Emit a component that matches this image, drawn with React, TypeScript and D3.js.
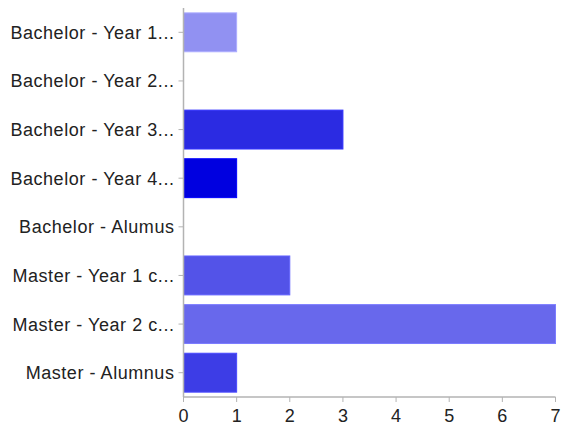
import React from "react";
import * as d3 from "d3";

const categories = [
  "Bachelor - Year 1...",
  "Bachelor - Year 2...",
  "Bachelor - Year 3...",
  "Bachelor - Year 4...",
  "Bachelor - Alumus",
  "Master - Year 1 c...",
  "Master - Year 2 c...",
  "Master - Alumnus",
];
const counts = [1, 0, 3, 1, 0, 2, 7, 1];
const barColors = [
  "#9191f2",
  "#9191f2",
  "#2b2be2",
  "#0000e0",
  "#0000e0",
  "#5353e8",
  "#6868ec",
  "#3d3de6",
];
const xTicks = [0, 1, 2, 3, 4, 5, 6, 7];

const W = 561;
const H = 426;
const left = 183.5;
const right = 555.5;
const top = 8;
const bottom = 397;
const fontSize = 18;
const tracking = 0.55;

export default function App() {
  const x = d3.scaleLinear().domain([0, 7]).range([left, right]);
  const y = d3
    .scaleBand<string>()
    .domain(categories)
    .range([top, bottom])
    .paddingInner(0.2)
    .paddingOuter(0.1);
  const font = "'Liberation Sans', Arial, Helvetica, sans-serif";
  const axisColor = "#b3b3b3";
  const capHalf = fontSize * 0.358;
  return (
    <svg
      width={W}
      height={H}
      style={{ position: "absolute", left: 0, top: 0, background: "#fff" }}
      fontFamily={font}
    >
      {categories.map((c, i) =>
        counts[i] > 0 ? (
          <rect
            key={c}
            x={x(0)}
            y={y(c)!}
            width={x(counts[i]) - x(0)}
            height={y.bandwidth()}
            fill={barColors[i]}
            stroke={d3.color(barColors[i])!.brighter(0.5).toString()}
            strokeWidth={1}
          />
        ) : null
      )}
      {/* y axis */}
      <line x1={left} x2={left} y1={top} y2={bottom} stroke={axisColor} strokeWidth={1.5} />
      {categories.map((c) => {
        const cy = y(c)! + y.bandwidth() / 2;
        return (
          <g key={c}>
            <line x1={left - 5} x2={left} y1={cy} y2={cy} stroke={axisColor} strokeWidth={1} />
            <text
              x={left - 9}
              y={cy + capHalf}
              textAnchor="end"
              fontSize={fontSize}
              letterSpacing={tracking}
              fill="#222"
            >
              {c}
            </text>
          </g>
        );
      })}
      {/* x axis */}
      <line x1={left} x2={right} y1={bottom} y2={bottom} stroke={axisColor} strokeWidth={1.5} />
      {xTicks.map((t) => (
        <g key={t}>
          <line x1={x(t)} x2={x(t)} y1={bottom} y2={bottom + 5} stroke={axisColor} strokeWidth={1} />
          <text
            x={x(t)}
            y={421.5}
            textAnchor="middle"
            fontSize={fontSize}
            fill="#222"
          >
            {t}
          </text>
        </g>
      ))}
    </svg>
  );
}
